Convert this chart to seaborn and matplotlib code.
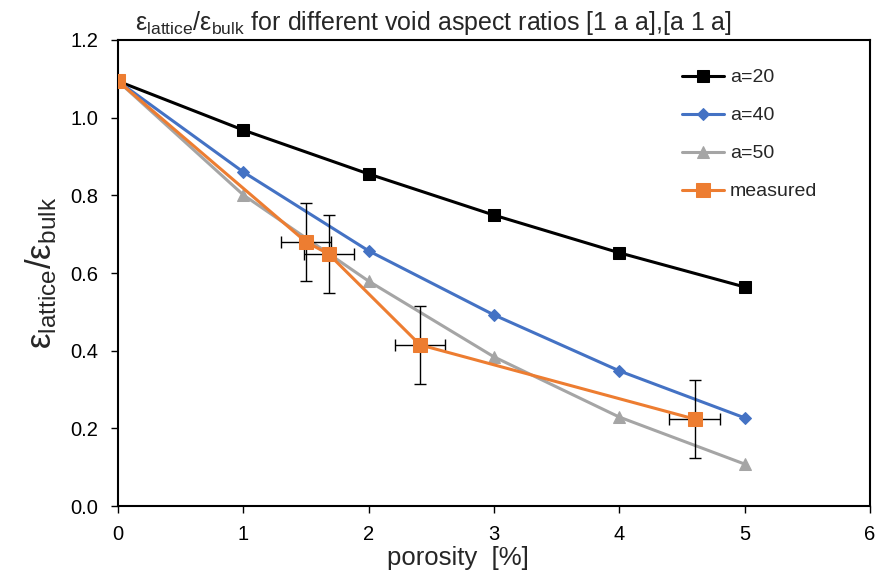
import numpy as np
import pandas as pd
import matplotlib
matplotlib.use("Agg")
import matplotlib.pyplot as plt
import seaborn as sns

# model curves
porosity = [0, 1, 2, 3, 4, 5]
a20 = [1.094, 0.968, 0.855, 0.749, 0.652, 0.564]
a40 = [1.094, 0.860, 0.657, 0.492, 0.348, 0.227]
a50 = [1.094, 0.801, 0.579, 0.384, 0.229, 0.108]

# measured points with error bars
meas_x = [0, 1.50, 1.68, 2.41, 4.60]
meas_y = [1.094, 0.680, 0.649, 0.415, 0.224]
meas_xerr = [0, 0.2, 0.2, 0.2, 0.2]
meas_yerr = [0, 0.1, 0.1, 0.1, 0.1]

sns.set_theme(style="white")
plt.rcParams["font.family"] = ["Liberation Sans", "DejaVu Sans"]
plt.rcParams["mathtext.fontset"] = "custom"
plt.rcParams["mathtext.rm"] = "Liberation Sans"
plt.rcParams["mathtext.it"] = "Liberation Sans"

fig = plt.figure(figsize=(8.76, 5.77), dpi=100)
ax = fig.add_axes([0.1347, 0.123, 0.8585, 0.8077])

series = [
    ("a=20", a20, "black", "s", 8.5),
    ("a=40", a40, "#4472C4", "D", 6.5),
    ("a=50", a50, "#A5A5A5", "^", 8.5),
]
for name, vals, col, mk, ms in series:
    sns.lineplot(x=porosity, y=vals, ax=ax, color=col, marker=mk, markersize=ms,
                 markeredgecolor=col, linewidth=2.2, label=name)

ax.errorbar(meas_x, meas_y, xerr=meas_xerr, yerr=meas_yerr, fmt="none",
            ecolor="black", elinewidth=1, capsize=4, capthick=1, zorder=4)
sns.lineplot(x=meas_x, y=meas_y, ax=ax, color="#ED7D31", marker="s", markersize=10,
             markeredgecolor="#ED7D31", linewidth=2.2, label="measured", sort=False, zorder=5)

ax.set_xlim(0, 6)
ax.set_ylim(0, 1.2)
ax.set_xticks(range(7))
ax.set_yticks(np.arange(0, 1.21, 0.2))
ax.set_yticklabels([f"{v:.1f}" for v in np.arange(0, 1.21, 0.2)])
ax.tick_params(axis="both", labelsize=14.5, direction="out", length=5, width=1,
               left=True, bottom=True, colors="black")
ax.tick_params(axis="y", pad=9)
ax.tick_params(axis="x", pad=9)
for s in ax.spines.values():
    s.set_color("black")
    s.set_linewidth(1.5)

ax.set_xlabel("porosity  [%]", fontsize=18.5, labelpad=1)
ax.xaxis.set_label_coords(0.452, -0.086)
ax.set_ylabel(r"$\mathregular{ε_{lattice}/ε_{bulk}}$", fontsize=25, labelpad=8)
ax.set_title(r"$\mathregular{ε_{lattice}/ε_{bulk}}$ for different void aspect ratios [1 a a],[a 1 a]",
             fontsize=18, pad=7, x=0.42)

ax.legend(loc="upper left", frameon=False, fontsize=14, handlelength=2.2,
          labelspacing=1.05, bbox_to_anchor=(0.739, 0.955), borderaxespad=0,
          handletextpad=0.3)

fig.savefig("out.png", dpi=100)
